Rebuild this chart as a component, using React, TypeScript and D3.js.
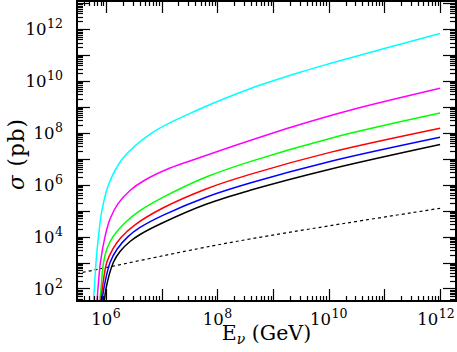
import React from 'react';
import * as d3 from 'd3';

// curves, each point is [log10(E / GeV), log10(sigma / pb)]
const cyanCurve: [number, number][] = [
  [5.774, 1.49], [5.79, 2], [5.82, 3], [5.864, 4], [5.926, 5], [6.045, 6], [6.296, 7],
  [6.826, 8], [7.652, 8.886], [8.586, 9.7], [9.484, 10.335], [10.022, 10.671], [11.998, 11.827],
];
const magentaCurve: [number, number][] = [
  [5.838, 1.49], [5.856, 2], [5.899, 3], [5.982, 4], [6.072, 4.678], [6.216, 5.268],
  [6.431, 5.777], [6.7, 6.181], [7.149, 6.644], [7.688, 7.048], [8.586, 7.703],
  [9.484, 8.32], [10.381, 8.871], [11.998, 9.715],
];
const greenCurve: [number, number][] = [
  [5.887, 1.49], [5.91, 2], [5.955, 3], [6.018, 3.541], [6.126, 4], [6.341, 4.536],
  [6.611, 4.998], [7.029, 5.518], [7.808, 6.305], [8.586, 6.89], [10.022, 7.784], [11.998, 8.759],
];
const redCurve: [number, number][] = [
  [5.905, 1.49], [5.934, 2], [6.013, 3], [6.126, 3.538], [6.269, 3.969], [6.521, 4.455],
  [7.029, 5.11], [7.808, 5.846], [8.586, 6.397], [10.022, 7.245], [11.998, 8.177],
];
const blueCurve: [number, number][] = [
  [5.928, 1.49], [5.961, 2], [6.072, 3], [6.198, 3.514], [6.395, 4], [6.611, 4.351],
  [7.029, 4.825], [7.808, 5.526], [8.586, 6.062], [10.022, 6.894], [11.998, 7.827],
];
const blackCurve: [number, number][] = [
  [5.97, 1.49], [6.0, 2], [6.131, 3], [6.251, 3.426], [6.431, 3.811], [6.611, 4.081],
  [7.029, 4.543], [7.808, 5.256], [8.586, 5.784], [10.022, 6.597], [11.998, 7.549],
];
const dottedCurve: [number, number][] = [
  [5.479, 2.578], [5.677, 2.663], [7.652, 3.534], [8.586, 3.908], [10.022, 4.42], [11.998, 5.091],
];

const seriesColors = ['#00ffff', '#ff00ff', '#00ff00', '#ff0000', '#0000ff', '#000000'];
const seriesCurves = [cyanCurve, magentaCurve, greenCurve, redCurve, blueCurve, blackCurve];

const xLabelExps = [6, 8, 10, 12];
const yLabelExps = [2, 4, 6, 8, 10, 12];

const W = 457;
const H = 352;
const left = 77;
const right = 456;
const top = 1;
const bottom = 301;
const font = '"DejaVu Serif", serif';

export default function App() {
  const x = d3.scaleLog().domain([10 ** 5.479, 10 ** 12.284]).range([left, right]);
  const y = d3.scaleLog().domain([10 ** 1.518, 10 ** 13.079]).range([bottom, top]);

  const line = d3
    .line<[number, number]>()
    .x((d) => x(10 ** d[0]))
    .y((d) => y(10 ** d[1]))
    .curve(d3.curveCatmullRom.alpha(0.5));

  const isMajor = (v: number) => Math.abs(Math.log10(v) - Math.round(Math.log10(v))) < 1e-6;
  const xTicks = x.ticks(60);
  const yTicks = y.ticks(60);

  return (
    <svg width={W} height={H} style={{ position: 'absolute', left: 0, top: 0, background: '#fff' }}>
      <defs>
        <clipPath id="plotArea">
          <rect x={left} y={top} width={right - left} height={bottom - top} />
        </clipPath>
      </defs>

      <g clipPath="url(#plotArea)">
        <path d={line(dottedCurve) || ''} fill="none" stroke="#000" strokeWidth={1.2} strokeDasharray="3 3" />
        {seriesCurves.map((pts, i) => (
          <path key={i} d={line(pts) || ''} fill="none" stroke={seriesColors[i]} strokeWidth={1.5} />
        ))}
      </g>

      {/* ticks on all four sides, pointing inward */}
      <g stroke="#000" strokeWidth={1.2}>
        {xTicks.map((t, i) => {
          const len = isMajor(t) ? 12 : 5;
          const px = Math.round(x(t)) + 0.5;
          return (
            <g key={'x' + i}>
              <line x1={px} x2={px} y1={bottom} y2={bottom - len} />
              <line x1={px} x2={px} y1={top} y2={top + len} />
            </g>
          );
        })}
        {yTicks.map((t, i) => {
          const len = isMajor(t) ? 13 : 6;
          const py = Math.round(y(t)) + 0.5;
          return (
            <g key={'y' + i}>
              <line x1={left} x2={left + len} y1={py} y2={py} />
              <line x1={right} x2={right - len} y1={py} y2={py} />
            </g>
          );
        })}
      </g>

      <rect x={left} y={top} width={right - left} height={bottom - top} fill="none" stroke="#000" strokeWidth={2} />

      <g fontFamily={font} fill="#000">
        {yLabelExps.map((e) => (
          <text key={'yl' + e} x={63} y={y(10 ** e) + 6.5} textAnchor="end" fontSize={16.5}>
            10
            <tspan fontSize={12.5} dx={0.5} dy={-7}>{e}</tspan>
          </text>
        ))}
        {xLabelExps.map((e) => (
          // keep the last label inside the page, as in the original
          <text key={'xl' + e} x={Math.min(x(10 ** e), W - 21)} y={325} textAnchor="middle" fontSize={16.5}>
            10
            <tspan fontSize={12.5} dx={0.5} dy={-7}>{e}</tspan>
          </text>
        ))}
        <text x={(left + right) / 2} y={340} textAnchor="middle" fontSize={20.5}>
          E
          <tspan fontSize={14} fontStyle="italic" dy={4}>ν</tspan>
          <tspan dy={-4}> (GeV)</tspan>
        </text>
        <text
          transform={`translate(24, 154) rotate(-90)`}
          textAnchor="middle"
          fontSize={21.5}
          letterSpacing={1}
        >
          <tspan fontStyle="italic">σ</tspan> (pb)
        </text>
      </g>
    </svg>
  );
}
